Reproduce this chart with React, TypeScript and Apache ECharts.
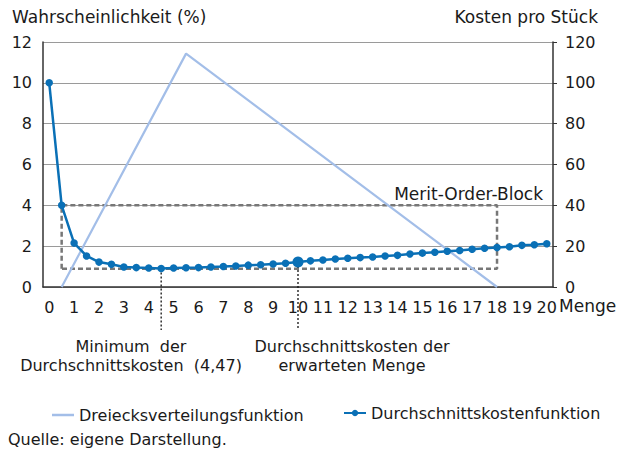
import React, { useEffect, useRef } from "react";
import * as echarts from "echarts";

const categories: string[] = [
  "0", "0.5", "1", "1.5", "2", "2.5", "3", "3.5", "4", "4.5",
  "5", "5.5", "6", "6.5", "7", "7.5", "8", "8.5", "9", "9.5",
  "10", "10.5", "11", "11.5", "12", "12.5", "13", "13.5", "14", "14.5",
  "15", "15.5", "16", "16.5", "17", "17.5", "18", "18.5", "19", "19.5", "20",
];

const costValues: number[] = [
  100, 40, 21.5, 15.2, 12.2, 11.1, 9.8, 9.5, 9.3, 9.1,
  9.3, 9.4, 9.5, 9.8, 10, 10.3, 10.7, 10.9, 11.3, 11.6,
  12.2, 12.8, 13.2, 13.7, 14.1, 14.4, 14.7, 15.2, 15.5, 16.2,
  16.6, 17, 17.5, 17.9, 18.5, 19, 19.3, 19.7, 20.4, 20.7, 21.2,
];

// triangle distribution: [x category, probability %]
const triangleX: string[] = ["0.5", "5.5", "18"];
const triangleY: number[] = [0, 11.43, 0];

// Merit-Order-Block box (x from, x to, cost from, cost to)
const blockX: string[] = ["0.5", "18"];
const blockCost: number[] = [9, 40];

const markerX: string[] = ["4.5", "10"];
const markerBottom = -21;

const leftTicks = { min: 0, max: 12, interval: 2 };
const rightTicks = { min: 0, max: 120, interval: 20 };

const FONT = "DejaVu Sans";
const TXT = "#1a1a1a";
const DARK = "#0a70b6";
const LIGHT = "#a3bee8";

export default function App() {
  const ref = useRef<HTMLDivElement>(null);
  useEffect(() => {
    if (!ref.current) return;
    const chart = echarts.init(ref.current, null, { renderer: "svg" });
    const idx = (c: string) => categories.indexOf(c);

    const triangleData = triangleX.map((x, i) => [idx(x), triangleY[i]]);
    const bx0 = idx(blockX[0]);
    const bx1 = idx(blockX[1]);
    const boxData = [
      [bx0, blockCost[0]],
      [bx0, blockCost[1]],
      [bx1, blockCost[1]],
      [bx1, blockCost[0]],
      [bx0, blockCost[0]],
    ];
    const costData = costValues.map((v, i) =>
      categories[i] === "10" ? { value: v, symbolSize: 11 } : v
    );

    const markerSeries = markerX.map((m) => ({
      type: "line",
      yAxisIndex: 1,
      data: [
        [idx(m), costValues[idx(m)]],
        [idx(m), markerBottom],
      ],
      symbol: "none",
      clip: false,
      silent: true,
      z: 1,
      lineStyle: { color: "#111", width: 1.3, type: [2, 2] },
    }));

    chart.setOption({
      animation: false,
      textStyle: { fontFamily: FONT },
      grid: { left: 43, right: 71, top: 42, bottom: 168, containLabel: false },
      xAxis: {
        type: "category",
        data: categories,
        boundaryGap: true,
        axisTick: { show: false },
        axisLine: { show: true, lineStyle: { color: "#333", width: 1.5 } },
        axisLabel: {
          interval: 1,
          margin: 12,
          color: TXT,
          fontSize: 16,
          fontFamily: FONT,
        },
        splitLine: { show: false },
      },
      yAxis: [
        {
          type: "value",
          min: leftTicks.min,
          max: leftTicks.max,
          interval: leftTicks.interval,
          axisLine: { show: true, lineStyle: { color: "#333", width: 1.5 } },
          axisTick: { show: false },
          axisLabel: { margin: 11, color: TXT, fontSize: 16, fontFamily: FONT },
          splitLine: { show: true, lineStyle: { color: "#9a9a9a", width: 1 } },
        },
        {
          type: "value",
          min: rightTicks.min,
          max: rightTicks.max,
          interval: rightTicks.interval,
          position: "right",
          axisLine: { show: true, lineStyle: { color: "#333", width: 1.5 } },
          axisTick: { show: true, length: 4, inside: false, lineStyle: { color: "#333" } },
          axisLabel: { margin: 12, color: TXT, fontSize: 16, fontFamily: FONT },
          splitLine: { show: false },
        },
      ],
      legend: [
        {
          data: [{ name: "Dreiecksverteilungsfunktion", icon: "rect" }],
          left: 47,
          top: 402,
          itemWidth: 22,
          itemHeight: 2.5,
          textStyle: { color: TXT, fontSize: 16, fontFamily: FONT },
          selectedMode: false,
        },
        {
          data: ["Durchschnittskostenfunktion"],
          left: 338,
          top: 400,
          itemWidth: 22,
          itemHeight: 8,
          textStyle: { color: TXT, fontSize: 16, fontFamily: FONT },
          selectedMode: false,
        },
      ],
      series: [
        {
          name: "Merit-Order-Block",
          type: "line",
          yAxisIndex: 1,
          data: boxData,
          symbol: "none",
          silent: true,
          z: 1,
          lineStyle: { color: "#777", width: 2.5, type: [5, 3] },
        },
        ...markerSeries,
        {
          name: "Dreiecksverteilungsfunktion",
          type: "line",
          yAxisIndex: 0,
          data: triangleData,
          symbol: "none",
          z: 2,
          lineStyle: { color: LIGHT, width: 2.2 },
          itemStyle: { color: LIGHT },
        },
        {
          name: "Durchschnittskostenfunktion",
          type: "line",
          yAxisIndex: 1,
          data: costData,
          symbol: "circle",
          symbolSize: 7.5,
          z: 3,
          lineStyle: { color: DARK, width: 2.5 },
          itemStyle: { color: DARK },
        },
      ],
      graphic: [
        {
          type: "text",
          left: 12,
          top: 8,
          style: { text: "Wahrscheinlichkeit (%)", fill: TXT, font: `17px '${FONT}'` },
        },
        {
          type: "text",
          right: 26,
          top: 8,
          style: { text: "Kosten pro Stück", fill: TXT, font: `17px '${FONT}'` },
        },
        {
          type: "text",
          left: 559,
          top: 297,
          style: { text: "Menge", fill: TXT, font: `17px '${FONT}'` },
        },
        {
          type: "text",
          right: 81,
          top: 185,
          style: { text: "Merit-Order-Block", fill: TXT, font: `17px '${FONT}'` },
        },
        {
          type: "text",
          x: 131,
          y: 346,
          style: {
            text: "Minimum  der",
            fill: TXT,
            font: `16px '${FONT}'`,
            textAlign: "center",
            textVerticalAlign: "middle",
          },
        },
        {
          type: "text",
          x: 131,
          y: 365,
          style: {
            text: "Durchschnittskosten  (4,47)",
            fill: TXT,
            font: `16px '${FONT}'`,
            textAlign: "center",
            textVerticalAlign: "middle",
          },
        },
        {
          type: "text",
          x: 352,
          y: 346,
          style: {
            text: "Durchschnittskosten der",
            fill: TXT,
            font: `16px '${FONT}'`,
            textAlign: "center",
            textVerticalAlign: "middle",
          },
        },
        {
          type: "text",
          x: 352,
          y: 365,
          style: {
            text: "erwarteten Menge",
            fill: TXT,
            font: `16px '${FONT}'`,
            textAlign: "center",
            textVerticalAlign: "middle",
          },
        },
        {
          type: "text",
          left: 8,
          top: 431,
          style: { text: "Quelle: eigene Darstellung.", fill: TXT, font: `16px '${FONT}'` },
        },
      ],
    });
    return () => chart.dispose();
  }, []);

  return (
    <div
      ref={ref}
      style={{ position: "fixed", left: 0, top: 0, width: 624, height: 455, background: "#fff" }}
    />
  );
}
